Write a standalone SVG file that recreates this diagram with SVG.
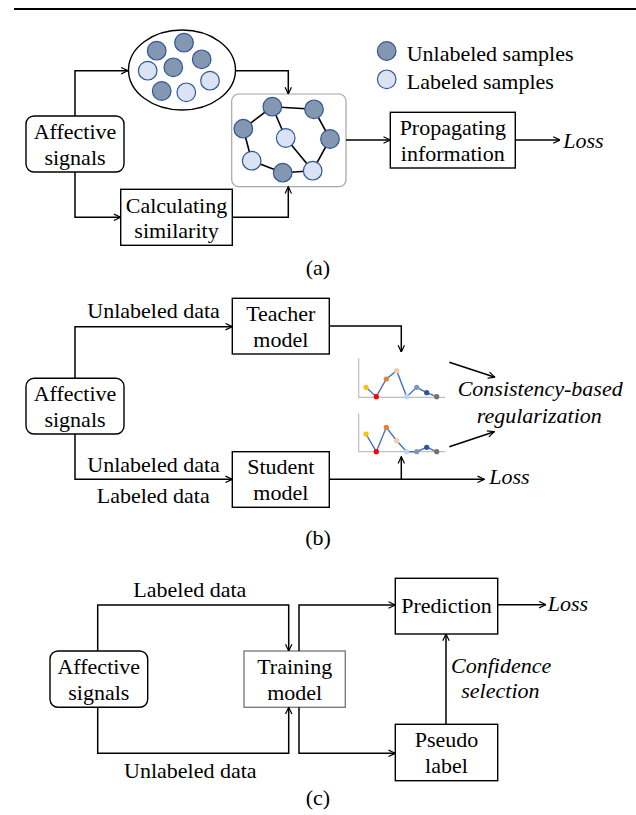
<svg xmlns="http://www.w3.org/2000/svg" width="636" height="815" viewBox="0 0 636 815">
<style>
text{font-family:"Liberation Serif","Times New Roman",serif;font-size:22px;fill:#000}
.c{text-anchor:middle}
.it{font-style:italic}
.box{fill:#fff;stroke:#000;stroke-width:1.4}
.gbox{fill:#fff;stroke:#7f7f7f;stroke-width:1.4}
.ln{fill:none;stroke:#000;stroke-width:1.5}
.dk{fill:#8497B0;stroke:#2F5597;stroke-width:1.2}
.lt{fill:#DAE3F3;stroke:#2F5597;stroke-width:1.2}
.ge{stroke:#000;stroke-width:1.6}
.ax{stroke:#BFBFBF;stroke-width:1.2;fill:none}
.cl{stroke:#4472C4;stroke-width:1.4;fill:none}
</style>
<defs>
<marker id="arr" viewBox="0 0 10 10" refX="9.5" refY="5" markerWidth="8" markerHeight="8" markerUnits="userSpaceOnUse" orient="auto">
<path d="M1,1 L9.5,5 L1,9" fill="none" stroke="#000" stroke-width="1.5"/>
</marker>
</defs>
<line x1="14" y1="9" x2="636" y2="9" stroke="#000" stroke-width="2"/>

<!-- (a) -->
<g id="a-affective">
<rect class="box" x="26" y="116" width="98" height="56" rx="8"/>
<text class="c" x="75" y="139">Affective</text>
<text class="c" x="75" y="165">signals</text>
</g>
<g id="a-pool">
<ellipse cx="182" cy="70" rx="53.5" ry="40" fill="#fff" stroke="#000" stroke-width="1.4"/>
<circle class="dk" cx="156.7" cy="50.7" r="9.3"/>
<circle class="dk" cx="184" cy="42.7" r="9.3"/>
<circle class="dk" cx="201.7" cy="59.3" r="9.3"/>
<circle class="lt" cx="147.7" cy="70.7" r="9.3"/>
<circle class="dk" cx="173.3" cy="67.3" r="9.3"/>
<circle class="lt" cx="210" cy="80.7" r="9.3"/>
<circle class="dk" cx="161.7" cy="91" r="9.3"/>
<circle class="lt" cx="186.3" cy="92.3" r="9.3"/>
</g>
<g id="a-graph">
<rect x="231.7" y="94" width="114.3" height="92.7" rx="7" fill="#fff" stroke="#A6A6A6" stroke-width="1.2"/>
<line class="ge" x1="272.3" y1="106.7" x2="314" y2="109.3"/>
<line class="ge" x1="272.3" y1="106.7" x2="243.3" y2="128.7"/>
<line class="ge" x1="243.3" y1="128.7" x2="251.7" y2="160.7"/>
<line class="ge" x1="251.7" y1="160.7" x2="282.7" y2="172.7"/>
<line class="ge" x1="282.7" y1="172.7" x2="312.7" y2="170.7"/>
<line class="ge" x1="312.7" y1="170.7" x2="330" y2="139"/>
<line class="ge" x1="330" y1="139" x2="314" y2="109.3"/>
<line class="ge" x1="272.3" y1="106.7" x2="285.7" y2="138"/>
<line class="ge" x1="285.7" y1="138" x2="312.7" y2="170.7"/>
<circle class="dk" cx="272.3" cy="106.7" r="9.3"/>
<circle class="dk" cx="314" cy="109.3" r="9.3"/>
<circle class="dk" cx="243.3" cy="128.7" r="9.3"/>
<circle class="lt" cx="285.7" cy="138" r="9.3"/>
<circle class="dk" cx="330" cy="139" r="9.3"/>
<circle class="lt" cx="251.7" cy="160.7" r="9.3"/>
<circle class="dk" cx="282.7" cy="172.7" r="9.3"/>
<circle class="lt" cx="312.7" cy="170.7" r="9.3"/>
</g>
<g id="a-legend">
<circle class="dk" cx="386.7" cy="51" r="9.3"/>
<text x="406.7" y="60.5">Unlabeled samples</text>
<circle class="lt" cx="386.7" cy="79.3" r="9.3"/>
<text x="406.7" y="89">Labeled samples</text>
</g>
<g id="a-calc">
<rect class="box" x="120.7" y="189.3" width="111.6" height="56"/>
<text class="c" x="176.5" y="212.7">Calculating</text>
<text class="c" x="176.5" y="238.3">similarity</text>
</g>
<g id="a-prop">
<rect class="box" x="390.3" y="112.3" width="125" height="55.7"/>
<text class="c" x="452.8" y="135.3">Propagating</text>
<text class="c" x="452.8" y="161">information</text>
</g>
<text class="it" x="563.3" y="148.3" font-size="23">Loss</text>
<text class="c" x="318" y="275">(a)</text>

<g id="a-connectors">
<path class="ln" d="M75,116 V70.7 H128" marker-end="url(#arr)"/>
<path class="ln" d="M75,172 V217.3 H120.7" marker-end="url(#arr)"/>
<path class="ln" d="M235.5,70.7 H288.3 V94" marker-end="url(#arr)"/>
<path class="ln" d="M232.3,217.3 H288.3 V186.7" marker-end="url(#arr)"/>
<path class="ln" d="M346,140 H390.3" marker-end="url(#arr)"/>
<path class="ln" d="M515.3,140 H560" marker-end="url(#arr)"/>
</g>

<!-- (b) -->
<g id="b-affective">
<rect class="box" x="26" y="378.3" width="98" height="55.7" rx="8"/>
<text class="c" x="75" y="401">Affective</text>
<text class="c" x="75" y="426.7">signals</text>
</g>
<g id="b-teacher">
<rect class="box" x="232.3" y="298.3" width="97" height="55.7"/>
<text class="c" x="280.8" y="320.5">Teacher</text>
<text class="c" x="280.8" y="346.7">model</text>
</g>
<g id="b-student">
<rect class="box" x="232.3" y="451.7" width="97" height="55.6"/>
<text class="c" x="280.8" y="473.5">Student</text>
<text class="c" x="280.8" y="500">model</text>
</g>
<g id="b-chart1">
<path class="ax" d="M358.7,358.3 V397.3 H445.3"/>
<polyline class="cl" points="366,387.3 376.3,396.7 386.3,379 396.7,370.7 406.7,396.7 416.7,387.3 426.7,392.7 436.7,396.7"/>
<circle cx="366" cy="387.3" r="2.6" fill="#FFC000"/>
<circle cx="376.3" cy="396.7" r="2.6" fill="#FF0000"/>
<circle cx="386.3" cy="379" r="2.6" fill="#ED7D31"/>
<circle cx="396.7" cy="370.7" r="2.6" fill="#F8CBAD"/>
<circle cx="406.7" cy="396.7" r="2.6" fill="#BDD7EE"/>
<circle cx="416.7" cy="387.3" r="2.6" fill="#8497B0"/>
<circle cx="426.7" cy="392.7" r="2.6" fill="#2F5597"/>
<circle cx="436.7" cy="396.7" r="2.6" fill="#767171"/>
</g>
<g id="b-chart2">
<path class="ax" d="M358.7,413.3 V451.7 H445.3"/>
<polyline class="cl" points="366,434 376.3,451.7 386.3,427.3 396.7,440.7 406.7,451.7 416.7,451.7 426.7,447.3 436.7,451.7"/>
<circle cx="366" cy="434" r="2.6" fill="#FFC000"/>
<circle cx="376.3" cy="451.7" r="2.6" fill="#FF0000"/>
<circle cx="386.3" cy="427.3" r="2.6" fill="#ED7D31"/>
<circle cx="396.7" cy="440.7" r="2.6" fill="#F8CBAD"/>
<circle cx="406.7" cy="451.7" r="2.6" fill="#BDD7EE"/>
<circle cx="416.7" cy="451.7" r="2.6" fill="#8497B0"/>
<circle cx="426.7" cy="447.3" r="2.6" fill="#2F5597"/>
<circle cx="436.7" cy="451.7" r="2.6" fill="#767171"/>
</g>
<text x="87.3" y="318.3">Unlabeled data</text>
<text x="87.3" y="471.7">Unlabeled data</text>
<text x="96.7" y="503.3">Labeled data</text>
<text class="it" x="457.7" y="396">Consistency-based</text>
<text class="it" x="476.7" y="422.7">regularization</text>
<text class="it" x="489.3" y="484.3" font-size="23">Loss</text>
<text class="c" x="318" y="545">(b)</text>

<g id="b-connectors">
<path class="ln" d="M75,378.3 V326.7 H232.3" marker-end="url(#arr)"/>
<path class="ln" d="M75,434 V479.3 H232.3" marker-end="url(#arr)"/>
<path class="ln" d="M329.3,326 H401.3 V352" marker-end="url(#arr)"/>
<path class="ln" d="M329.3,479.3 H484.3" marker-end="url(#arr)"/>
<path class="ln" d="M401.3,479.3 V456.7" marker-end="url(#arr)"/>
<path class="ln" d="M449.3,362.3 L495,377.3" marker-end="url(#arr)"/>
<path class="ln" d="M449.3,446.7 L494.3,431.7" marker-end="url(#arr)"/>
</g>

<!-- (c) -->
<g id="c-affective">
<rect class="box" x="50" y="651" width="97.7" height="56.3" rx="8"/>
<text class="c" x="98.8" y="674.3">Affective</text>
<text class="c" x="98.8" y="700">signals</text>
</g>
<g id="c-training">
<rect class="gbox" x="244" y="651" width="101.3" height="56.3"/>
<text class="c" x="294.7" y="674.3">Training</text>
<text class="c" x="294.7" y="700">model</text>
</g>
<g id="c-prediction">
<rect class="box" x="395.3" y="578.3" width="102.4" height="55.7"/>
<text class="c" x="446.5" y="613.3">Prediction</text>
</g>
<g id="c-pseudo">
<rect class="box" x="395.3" y="724.3" width="102.4" height="56.4"/>
<text class="c" x="446.5" y="746.7">Pseudo</text>
<text class="c" x="446.5" y="772.7">label</text>
</g>
<text x="133.3" y="597.3">Labeled data</text>
<text x="124" y="778.3">Unlabeled data</text>
<text class="it" x="451" y="673.3">Confidence</text>
<text class="it" x="461.3" y="698.3">selection</text>
<text class="it" x="547.7" y="610.7" font-size="23">Loss</text>
<text class="c" x="318" y="805">(c)</text>

<g id="c-connectors">
<path class="ln" d="M97.7,651 V605 H288.7 V651" marker-end="url(#arr)"/>
<path class="ln" d="M97.7,707.3 V753.3 H288.7 V707.3" marker-end="url(#arr)"/>
<path class="ln" d="M299,651 V605 H395.3" marker-end="url(#arr)"/>
<path class="ln" d="M299,707.3 V753.3 H395.3" marker-end="url(#arr)"/>
<path class="ln" d="M497.7,604.7 H546" marker-end="url(#arr)"/>
<path class="ln" d="M446,724.3 V634" marker-end="url(#arr)"/>
</g>
</svg>
